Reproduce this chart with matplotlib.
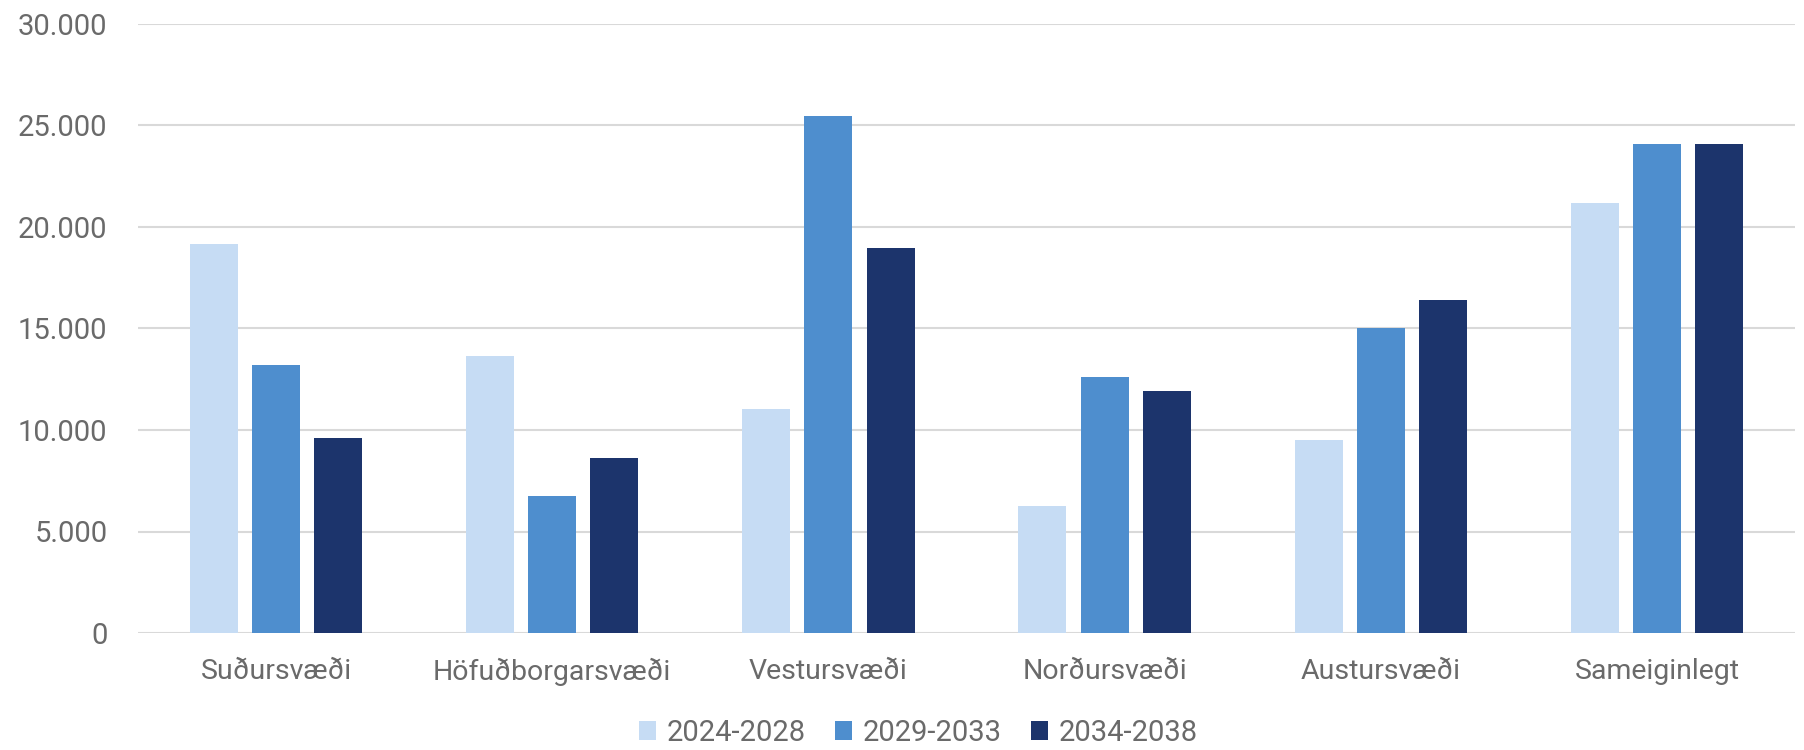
import numpy as np
import matplotlib.pyplot as plt
from matplotlib.ticker import FuncFormatter

# svæði og tímabil
categories = ['Suðursvæði', 'Höfuðborgarsvæði', 'Vestursvæði',
              'Norðursvæði', 'Austursvæði', 'Sameiginlegt']
series_names = ['2024-2028', '2029-2033', '2034-2038']
v2024 = [19150, 13650, 11050, 6250, 9500, 21200]
v2029 = [13200, 6750, 25450, 12600, 15000, 24100]
v2034 = [9600, 8600, 18950, 11900, 16400, 24100]

colors = ['#C6DCF4', '#4E8ECE', '#1C346C']
text_color = '#6a6a6a'

plt.rcParams['font.family'] = ['Roboto', 'DejaVu Sans']

fig = plt.figure(figsize=(18.04, 7.5), dpi=100)
ax = fig.add_axes([0.0765, 0.156, 0.9185, 0.812])

x = np.arange(len(categories))
width = 0.174
step = 0.225
for i, vals in enumerate([v2024, v2029, v2034]):
    ax.bar(x + (i - 1) * step, vals, width, color=colors[i],
           label=series_names[i], zorder=3)

ax.set_xlim(-0.5, len(categories) - 0.5)
ax.set_ylim(0, 30000)
ax.set_yticks(np.arange(0, 30001, 5000))
ax.yaxis.set_major_formatter(FuncFormatter(lambda v, p: f'{int(v):,}'.replace(',', '.')))
ax.set_xticks(x)
ax.set_xticklabels(categories)

ax.grid(axis='y', color='#D9D9D9', linewidth=1.5, zorder=0)
for s in ax.spines.values():
    s.set_visible(False)
ax.tick_params(axis='both', length=0, labelsize=20.5, colors=text_color)
ax.tick_params(axis='y', pad=22, labelsize=21)
ax.tick_params(axis='x', pad=18)

leg = ax.legend(loc='center', bbox_to_anchor=(0.509, 0.023),
                bbox_transform=fig.transFigure, ncol=3, frameon=False,
                fontsize=21, handlelength=0.6, handleheight=0.6,
                handletextpad=0.35, columnspacing=1.0)
for t in leg.get_texts():
    t.set_color(text_color)

fig.savefig('out.png', dpi=100)
